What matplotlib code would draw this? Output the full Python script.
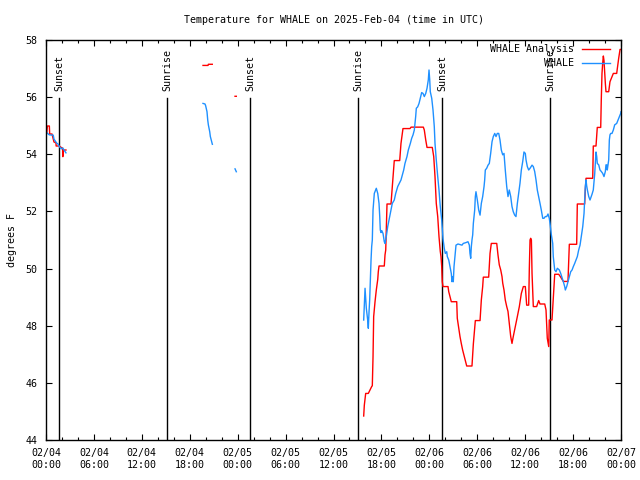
import numpy as np
import matplotlib
matplotlib.use("Agg")
import matplotlib.pyplot as plt

plt.rcParams['font.family'] = ['DejaVu Sans Mono']
FS = 7.2

# hours since 2025-02-04 00:00 UTC, temperature in F; nan = gap
red_h = [0.10, 0.17, 0.42, 0.46, 0.75, 1.00, 1.25, 1.27, 1.67, 2.00, 2.08, 2.09, 2.13, 2.17, 2.50,
         np.nan,
         19.66, 20.29, 20.33, 20.82, np.nan, 23.67, 23.83, np.nan,
         39.78, 39.86, 40.03, 40.36, 40.53, 40.78, 40.86, 40.95, 41.03, 41.20, 41.36, 41.54, 41.61,
         41.70, 42.36, 42.45, 42.54, 42.70, 43.20, 43.36, 43.61, 44.29, 44.45, 44.70, 45.58, 45.71,
         47.25, 47.37, 47.55, 47.71, 48.37, 48.55, 48.71, 48.87, 49.05, 49.21, 49.37, 49.46, 49.55,
         49.62, 49.71, 50.34, 50.43, 50.75, 51.43, 51.50, 51.68, 51.84, 52.00, 52.17, 52.43, 52.68,
         53.34, 53.51, 53.68, 53.76, 54.35, 54.51, 54.68, 54.76, 55.43, 55.60, 55.76, 56.44, 56.60,
         56.76, 56.94, 57.10, 57.19, 57.35, 57.51, 57.69, 57.85, 58.01, 58.19, 58.35, 58.51, 58.77,
         59.02, 59.27, 59.52, 59.77, 60.02, 60.19, 60.44, 60.52, 60.61, 60.69, 60.78, 60.86, 61.02,
         61.44, 61.69, 61.86, 62.45, 62.61, 62.77, 62.95, 63.02, 63.36, 63.52, 63.70, 64.20, 64.45,
         64.78, 65.36, 65.53, 66.45, 66.53, 67.45, 67.53, 67.62, 68.46, 68.53, 68.87, 69.03, 69.46,
         69.53, 69.62, 69.71, 69.79, 69.87, 69.96, 70.04, 70.12, 70.46, 70.62, 70.96, 71.04, 71.46,
         71.71, 71.88, 72.00]
red_f = [54.75, 54.99, 54.99, 54.71, 54.71, 54.43, 54.40, 54.29, 54.29, 54.22, 54.22, 53.92, 53.92, 54.15, 54.15,
         np.nan,
         57.11, 57.11, 57.15, 57.15, np.nan, 56.03, 56.03, np.nan,
         44.84, 45.22, 45.63, 45.63, 45.73, 45.87, 45.90, 46.92, 48.32, 48.84, 49.25, 49.62, 49.89,
         50.09, 50.09, 50.48, 50.65, 52.26, 52.26, 52.87, 53.78, 53.78, 54.38, 54.90, 54.90, 54.95,
         54.95, 54.85, 54.50, 54.24, 54.24, 53.92, 53.22, 52.28, 51.82, 51.12, 50.60, 50.42, 50.07,
         49.54, 49.37, 49.37, 49.19, 48.84, 48.84, 48.26, 47.91, 47.62, 47.38, 47.15, 46.86, 46.59,
         46.59, 47.36, 47.91, 48.18, 48.18, 48.90, 49.37, 49.70, 49.70, 50.53, 50.88, 50.88, 50.47,
         50.13, 49.95, 49.72, 49.49, 49.25, 48.90, 48.67, 48.50, 48.08, 47.62, 47.38, 47.62, 47.97,
         48.32, 48.67, 49.13, 49.37, 49.37, 48.72, 48.72, 50.00, 51.00, 51.06, 51.00, 49.83, 48.67,
         48.67, 48.88, 48.76, 48.76, 48.55, 47.56, 47.27, 48.20, 48.20, 48.95, 49.80, 49.80, 49.70,
         49.55, 49.55, 50.85, 50.85, 52.26, 52.26, 52.75, 53.16, 53.16, 54.29, 54.29, 54.94, 54.94,
         55.90, 56.83, 57.20, 57.44, 57.28, 56.83, 56.48, 56.19, 56.19, 56.54, 56.78, 56.83, 56.83,
         57.36, 57.67, 57.67]

blue_h = [0.16, 0.41, 0.91, 1.00, 1.34, 1.50, 1.67, 1.92, 2.09, 2.34, 2.50,
          np.nan,
          19.66, 19.91, 19.99, 20.16, 20.25, 20.33, 20.50, 20.58, 20.75, 20.83, np.nan, 23.67, 23.83, np.nan,
          39.78, 39.86, 39.95, 40.03, 40.11, 40.28, 40.36, 40.45, 40.53, 40.61, 40.70, 40.78, 40.86,
          40.95, 41.11, 41.28, 41.36, 41.54, 41.70, 41.79, 41.86, 41.95, 42.04, 42.20, 42.36, 42.45,
          42.61, 42.79, 43.04, 43.20, 43.36, 43.61, 43.79, 44.04, 44.29, 44.45, 44.62, 44.79, 44.95,
          45.20, 45.37, 45.62, 45.79, 45.96, 46.12, 46.29, 46.37, 46.54, 46.71, 46.87, 47.04, 47.21,
          47.37, 47.55, 47.71, 47.87, 47.96, 48.05, 48.12, 48.30, 48.46, 48.62, 48.71, 48.87, 49.05,
          49.21, 49.37, 49.55, 49.71, 49.87, 50.00, 50.18, 50.25, 50.43, 50.59, 50.75, 50.84, 50.92,
          51.00, 51.09, 51.25, 51.34, 51.59, 52.09, 52.25, 52.59, 52.84, 53.01, 53.09, 53.18, 53.26,
          53.34, 53.43, 53.51, 53.68, 53.76, 53.84, 54.01, 54.18, 54.35, 54.51, 54.68, 54.85, 54.93,
          55.01, 55.18, 55.35, 55.51, 55.68, 55.85, 56.01, 56.19, 56.35, 56.51, 56.69, 56.85, 57.01,
          57.19, 57.35, 57.51, 57.69, 57.85, 58.01, 58.19, 58.35, 58.51, 58.69, 58.85, 59.02, 59.19,
          59.35, 59.52, 59.69, 59.85, 60.02, 60.11, 60.27, 60.44, 60.61, 60.86, 61.02, 61.19, 61.36,
          61.52, 61.69, 61.86, 62.02, 62.20, 62.36, 62.52, 62.70, 62.86, 63.02, 63.11, 63.27, 63.45,
          63.52, 63.70, 63.86, 64.03, 64.28, 64.45, 64.61, 64.78, 64.95, 65.03, 65.20, 65.36, 65.53,
          65.70, 65.87, 66.03, 66.20, 66.37, 66.53, 66.70, 66.87, 67.03, 67.21, 67.37, 67.45, 67.53,
          67.62, 67.70, 67.79, 67.96, 68.12, 68.37, 68.53, 68.71, 68.87, 68.96, 69.03, 69.21, 69.37,
          69.53, 69.71, 69.87, 70.04, 70.12, 70.21, 70.28, 70.46, 70.54, 70.62, 70.71, 70.87, 71.04,
          71.21, 71.46, 71.63, 71.79, 71.96, 72.00]
blue_f = [54.74, 54.68, 54.67, 54.53, 54.39, 54.36, 54.27, 54.19, 54.22, 54.12, 54.05,
          np.nan,
          55.78, 55.76, 55.70, 55.49, 55.20, 55.03, 54.79, 54.62, 54.44, 54.35, np.nan, 53.49, 53.39, np.nan,
          48.20, 48.73, 49.31, 48.96, 48.61, 48.20, 47.91, 48.49, 48.90, 49.54, 50.30, 50.77, 51.00,
          52.05, 52.63, 52.75, 52.81, 52.63, 52.28, 51.82, 51.35, 51.26, 51.33, 51.23, 50.94, 50.88,
          51.12, 51.47, 51.82, 52.05, 52.28, 52.40, 52.63, 52.87, 53.01, 53.10, 53.28, 53.45, 53.68,
          53.92, 54.15, 54.38, 54.56, 54.68, 54.85, 55.32, 55.61, 55.66, 55.78, 55.96, 56.16, 56.13,
          56.02, 56.13, 56.31, 56.60, 56.95, 56.60, 56.19, 55.96, 55.55, 54.97, 54.38, 53.80, 53.22,
          52.75, 52.17, 51.70, 51.05, 50.71, 50.53, 50.59, 50.42, 50.30, 50.07, 49.83, 49.54, 49.72,
          49.54, 50.07, 50.53, 50.82, 50.86, 50.82, 50.88, 50.91, 50.94, 50.82, 50.53, 50.36, 50.77,
          51.00, 51.18, 51.58, 52.05, 52.52, 52.69, 52.40, 52.05, 51.87, 52.28, 52.52, 52.87, 53.10,
          53.45, 53.51, 53.62, 53.68, 54.03, 54.44, 54.62, 54.73, 54.62, 54.73, 54.73, 54.50, 54.15,
          53.98, 54.03, 53.45, 52.87, 52.52, 52.75, 52.52, 52.17, 51.99, 51.87, 51.82, 52.28, 52.63,
          52.98, 53.45, 53.74, 54.08, 54.03, 53.80, 53.57, 53.45, 53.51, 53.62, 53.57, 53.40, 53.10,
          52.75, 52.52, 52.28, 52.05, 51.76, 51.76, 51.82, 51.82, 51.91, 51.76, 51.58, 51.20, 50.88,
          50.42, 49.95, 49.89, 50.01, 49.95, 49.83, 49.69, 49.54, 49.37, 49.25, 49.37, 49.54, 49.72,
          49.89, 49.95, 50.07, 50.18, 50.30, 50.42, 50.65, 50.82, 51.12, 51.47, 51.93, 52.40, 52.87,
          53.10, 52.90, 52.75, 52.52, 52.40, 52.60, 52.75, 53.33, 54.08, 53.92, 53.68, 53.63, 53.45,
          53.40, 53.33, 53.22, 53.40, 53.63, 53.63, 53.45, 53.80, 54.50, 54.68, 54.73, 54.73, 54.85,
          55.03, 55.08, 55.20, 55.32, 55.43, 55.49]

sun_h = [1.63, 15.15, 25.54, 39.07, 49.59, 63.11]
sun_lbl = ['Sunset', 'Sunrise', 'Sunset', 'Sunrise', 'Sunset', 'Sunrise']

xticks = list(range(0, 73, 6))
xlabels = ['02/04\n00:00', '02/04\n06:00', '02/04\n12:00', '02/04\n18:00',
           '02/05\n00:00', '02/05\n06:00', '02/05\n12:00', '02/05\n18:00',
           '02/06\n00:00', '02/06\n06:00', '02/06\n12:00', '02/06\n18:00',
           '02/07\n00:00']
yticks = list(range(44, 59, 2))

fig = plt.figure(figsize=(6.4, 4.8), dpi=100)
ax = fig.add_axes([46/640, 40/480, 575/640, 400/480])

for h, lbl in zip(sun_h, sun_lbl):
    ax.plot([h, h], [44, 55.97], color='black', lw=1.0)
    ax.text(h, 56.2, lbl, rotation=90, ha='center', va='bottom', fontsize=FS)

ax.plot(red_h, red_f, color='#ff0000', lw=1.0)
ax.plot(blue_h, blue_f, color='#1e90ff', lw=1.0)

# legend, gnuplot style (text right aligned, sample to the right)
for i, (lbl, col) in enumerate([('WHALE Analysis', '#ff0000'), ('WHALE', '#1e90ff')]):
    yy = 1 - (9 + 14 * i) / 400
    ax.text(528 / 575, yy, lbl, transform=ax.transAxes, ha='right', va='center', fontsize=FS)
    ax.plot([536 / 575, 564 / 575], [yy, yy], transform=ax.transAxes, color=col, lw=1.0)

ax.set_xlim(0, 72)
ax.set_ylim(44, 58)
ax.set_xticks(xticks)
ax.set_xticklabels(xlabels, fontsize=FS)
ax.set_xticks(list(range(0, 73, 2)), minor=True)
ax.set_yticks(yticks)
ax.set_yticklabels([str(v) for v in yticks], fontsize=FS)
ax.tick_params(which='both', direction='in', top=True, right=True, color='black')
ax.tick_params(which='major', length=4.5, width=0.8, pad=6)
ax.tick_params(which='minor', length=2.5, width=0.8)
for s in ax.spines.values():
    s.set_linewidth(1.0)

ax.set_ylabel('degrees F', fontsize=FS, labelpad=6)
ax.set_title('Temperature for WHALE on 2025-Feb-04 (time in UTC)', fontsize=FS, pad=12)

fig.savefig('out.png', dpi=100)
